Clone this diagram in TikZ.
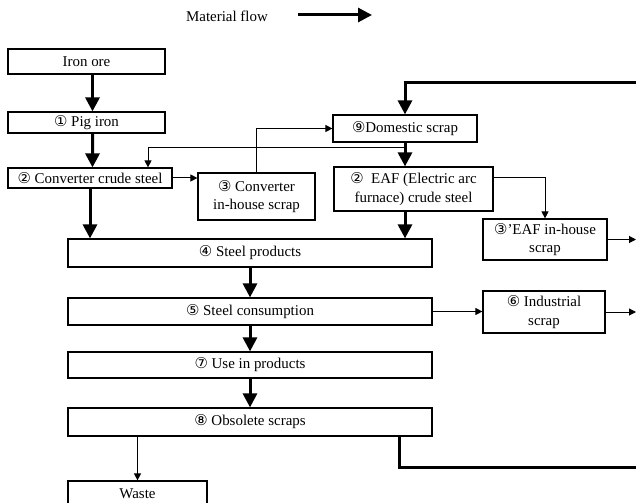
\documentclass[tikz,border=0pt]{standalone}
\usepackage{fontspec}
\setmainfont{Liberation Serif}
\newfontfamily\circfont{DejaVu Sans}
\usetikzlibrary{arrows.meta,positioning}
\newcommand{\cnum}[1]{{\circfont\fontsize{15}{16}\selectfont #1}}

\begin{document}
\begin{tikzpicture}[x=1bp,y=-1bp,
  box/.style={draw,line width=1.2bp,inner sep=0pt,align=center,font=\fontsize{15}{18.5}\selectfont},
  wide/.style={box,minimum width=364bp},
  thk/.style={-{Triangle[length=14bp,width=14bp]},line width=3bp},
  thkline/.style={line width=3bp},
  tn/.style={-{Triangle[length=7bp,width=7bp]},line width=1bp}
]
\useasboundingbox (0,0) rectangle (636,503);
% legend
\node[font=\fontsize{15}{16.5}\selectfont] (leg) at (227,16) {Material flow};
\coordinate (la) at (298,15);
\coordinate (lb) at (372,15);
\draw[thk] (la)--(lb);
% left column
\node[box,minimum width=157bp,minimum height=25bp] (ore) at (86.5,61.5) {Iron ore};
\node[box,minimum width=157bp,minimum height=21bp] (pig) at (86.5,122.5) {\cnum{①} Pig iron};
\node[box,minimum width=164bp,minimum height=20bp] (conv) at (90,178) {\cnum{②} Converter crude steel};
\node[box,minimum width=117bp,minimum height=47bp] (cscrap) at (256.5,196.5) {\cnum{③} Converter\\in-house scrap};
% scrap side
\node[box,minimum width=144bp,minimum height=27bp] (dom) at (405,128.5) {\cnum{⑨}Domestic scrap};
\node[box,minimum width=159bp,minimum height=44bp] (eaf) at (413.5,189) {\cnum{②}\ \ EAF (Electric arc\\furnace) crude steel};
\node[box,minimum width=124bp,minimum height=41bp] (escrap) at (545,239.5) {\cnum{③}'EAF in-house\\scrap};
\node[box,minimum width=122bp,minimum height=42bp] (ind) at (544,312) {\cnum{⑥} Industrial\\scrap};
% main chain
\node[wide,minimum height=28bp] (prod) at (250,253) {\cnum{④} Steel products};
\node[wide,minimum height=27bp] (cons) at (250,311.5) {\cnum{⑤} Steel consumption};
\node[wide,minimum height=26bp] (use) at (250,365) {\cnum{⑦} Use in products};
\node[wide,minimum height=28bp] (obs) at (250,422) {\cnum{⑧} Obsolete scraps};
\node[box,minimum width=139bp,minimum height=26bp] (waste) at (137.5,494) {Waste};
% off-page ends
\coordinate (topin) at (640,83);
\coordinate (botout) at (640,467);
\coordinate (out1) at (636,239.5);
\coordinate (out2) at (636,312);
\coordinate (brk) at (405,148);
% thick flows
\draw[thk] ([xshift=6bp]ore.south)--([xshift=6bp]pig.north);
\draw[thk] ([xshift=6bp]pig.south)--([xshift=2.5bp]conv.north);
\draw[thk] (conv.south)--(conv.south|-prod.north);
\draw[thk] (topin)-|(dom.north);
\draw[thk] (dom.south)--(dom.south|-eaf.north);
\draw[thk] (dom.south|-eaf.south)--(dom.south|-prod.north);
\draw[thk] (prod)--(cons);
\draw[thk] (cons)--(use);
\draw[thk] (use)--(obs);
\draw[thkline] ([xshift=149bp]obs.south)|-(botout);
% thin flows
\draw[tn] (conv.east)--(conv.east-|cscrap.west);
\draw[tn] (cscrap.north)|-(dom.west);
\draw[tn] (brk)-|([xshift=58bp]conv.north);
\draw[tn] ([yshift=11bp]eaf.east)-|(escrap.north);
\draw[tn] (escrap.east)--(out1);
\draw[tn] (cons.east)--(cons.east-|ind.west);
\draw[tn] (ind.east)--(out2);
\draw[tn] (waste.north|-obs.south)--(waste.north);
\end{tikzpicture}
\end{document}
